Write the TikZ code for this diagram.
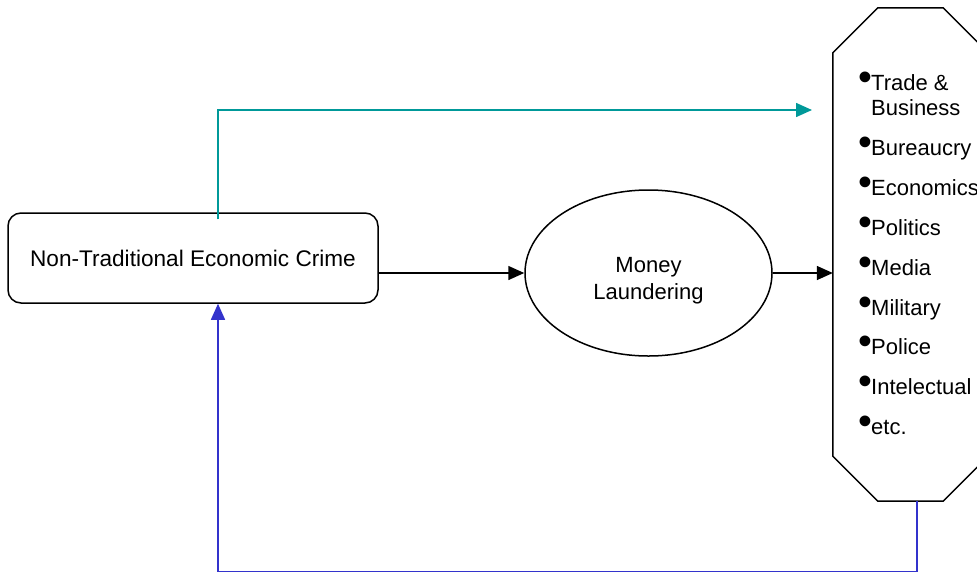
\documentclass[tikz,border=0pt]{standalone}
\usepackage{fontspec}
\setmainfont{Liberation Sans}
\usetikzlibrary{arrows.meta, shapes.geometric}
\newcommand{\bul}{\makebox[13pt][l]{\scalebox{1.8}{•}}}

\begin{document}
\begin{tikzpicture}[x=1pt, y=-1pt,
    font=\fontsize{22}{27}\selectfont,
    >={Triangle[length=16pt, width=14pt]},
    crimebox/.style={rounded corners=13pt, draw, line width=1.5pt,
        minimum width=370pt, minimum height=90pt, inner sep=0pt,
        font=\fontsize{22.6}{27}\selectfont},
    oval/.style={ellipse, draw, line width=1.5pt, minimum width=247pt,
        minimum height=166pt, inner sep=0pt},
    octa/.style={minimum width=155pt, minimum height=493pt, inner sep=0pt},
    sector/.style={anchor=base west, inner sep=0pt},
    flow/.style={->, line width=1.5pt},
    spill/.style={->, line width=1.5pt, draw=tealline},
    feedback/.style={->, line width=1.5pt, draw=blueline}
  ]
    \definecolor{tealline}{RGB}{0,153,153}
    \definecolor{blueline}{RGB}{51,51,204}
    \useasboundingbox (0,0) rectangle (977,571);

    \node[crimebox] (crime) at (193,258) {Non-Traditional Economic Crime};
    \node[oval, label={[align=center, yshift=-8pt]center:Money\\Laundering}] (launder) at (648.5,273) {};
    \node[octa] (sectors) at (910.5,254.5) {};
    \draw[line width=1.5pt] ([xshift=45pt]sectors.north west) -- ([xshift=-45pt]sectors.north east)
        -- ([yshift=-45pt]sectors.north east) -- ([yshift=45pt]sectors.south east)
        -- ([xshift=-45pt]sectors.south east) -- ([xshift=45pt]sectors.south west)
        -- ([yshift=45pt]sectors.south west) -- ([yshift=-45pt]sectors.north west) -- cycle;

    % sectors reached by the laundered money
    \node[sector] (s1) at (858,90) {\bul Trade \&};
    \node[sector] (s1b) at (871,115) {Business};
    \node[sector] (s2) at (858,155) {\bul Bureaucry};
    \node[sector] (s3) at (858,195) {\bul Economics};
    \node[sector] (s4) at (858,235) {\bul Politics};
    \node[sector] (s5) at (858,275) {\bul Media};
    \node[sector] (s6) at (858,315) {\bul Military};
    \node[sector] (s7) at (858,354) {\bul Police};
    \node[sector] (s8) at (858,394) {\bul Intelectual};
    \node[sector] (s9) at (858,434) {\bul etc.};

    \draw[flow] (launder.west -| crime.east) -- (launder.west);
    \draw[flow] (launder.east) -- (launder.east -| sectors.west);

    \coordinate (spillend) at (812,110);
    \draw[spill] ([xshift=25pt, yshift=-7pt]crime.north) |- (spillend);

    \coordinate (crimefoot) at ([xshift=25pt]crime.south);
    \coordinate (floor) at (0,571.8);
    \draw[feedback] ([xshift=6.5pt]sectors.south) |- (floor -| crimefoot) -- (crimefoot);
  \end{tikzpicture}
\end{document}
